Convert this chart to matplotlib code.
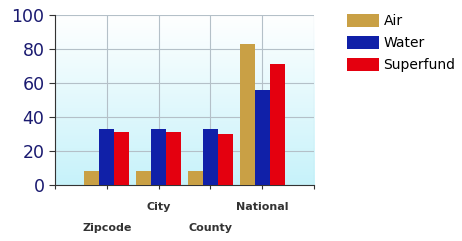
import numpy as np
import matplotlib.pyplot as plt

# chart data
categories = ["Zipcode", "City", "County", "National"]
air = [8, 8, 8, 83]
water = [33, 33, 33, 56]
superfund = [31, 31, 30, 71]
y_ticks = [0, 20, 40, 60, 80, 100]

fig = plt.figure(figsize=(4.62, 2.41), dpi=100)
ax = fig.add_axes([0.119, 0.232, 0.561, 0.706])

# gradient background: white at top, light cyan at bottom
grad = np.linspace(0, 1, 256).reshape(-1, 1)
top = np.array([1.0, 1.0, 1.0])
bottom = np.array([0.78, 0.95, 0.98])
img = bottom + (top - bottom) * grad[..., None]
ax.imshow(img, extent=[0, 5, 0, 100], aspect="auto", origin="lower", zorder=0)

x = np.arange(1, len(categories) + 1)
w = 0.29
ax.bar(x - w, air, w, color="#c9a045", label="Air", zorder=3)
ax.bar(x, water, w, color="#1020a8", label="Water", zorder=3)
ax.bar(x + w, superfund, w, color="#e4000f", label="Superfund", zorder=3)

ax.set_xlim(0, 5)
ax.set_ylim(0, 100)
ax.set_yticks(y_ticks)
ax.set_xticks(range(0, 6))
ax.set_xticklabels([])
ax.grid(True, color="#b4c0c8", linewidth=0.8, zorder=1)
ax.tick_params(axis="y", labelsize=12.5, labelcolor="#1a1a70", color="#333333", length=4)
ax.tick_params(axis="x", color="#333333", length=3)
for s in ["top", "right"]:
    ax.spines[s].set_visible(False)
for s in ["left", "bottom"]:
    ax.spines[s].set_color("#333333")

# staggered category labels
for i, name in enumerate(categories):
    yoff = -0.25 if i % 2 == 0 else -0.13
    ax.text(x[i], yoff, name, transform=ax.get_xaxis_transform(), ha="center",
            va="center", fontsize=8, fontweight="bold", color="#333333")

fig.legend(loc="upper left", bbox_to_anchor=(0.725, 0.995), frameon=False,
           fontsize=10, handlelength=2.3, handleheight=1.1, labelspacing=0.55,
           handletextpad=0.3)

fig.savefig("out.png", dpi=100)
